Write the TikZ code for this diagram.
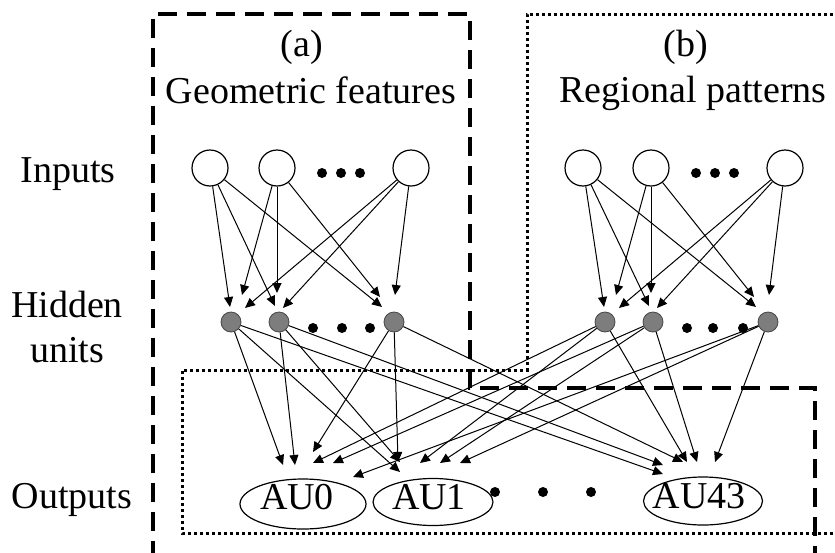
\documentclass[tikz,border=0pt]{standalone}
\usepackage{fontspec}
\setmainfont{Liberation Serif}
\usetikzlibrary{arrows.meta,shapes.geometric}
\begin{document}
\begin{tikzpicture}[x=1pt,y=-1pt,
  lbl/.style={font=\rmfamily\fontsize{38}{45}\selectfont, inner sep=0pt, anchor=base},
  innode/.style={circle, draw, line width=1.2pt, fill=white, minimum size=36pt, inner sep=0pt},
  hidnode/.style={circle, draw={rgb,255:red,70;green,70;blue,70}, line width=0.8pt, fill={rgb,255:red,125;green,125;blue,125}, minimum size=20pt, inner sep=0pt},
  dotnode/.style={circle, fill=black, minimum size=10pt, inner sep=0pt},
  outnode/.style={ellipse, draw, line width=1.2pt, inner sep=0pt},
  conn/.style={-{Triangle[length=10pt,width=9pt]}, line width=1pt},
  dashbox/.style={line width=3.5pt, dash pattern=on 19pt off 10pt},
  dotbox/.style={line width=3pt, dash pattern=on 3pt off 3pt}]
\useasboundingbox (0,0) rectangle (835,552);
\clip (0,0) rectangle (835,552);
\fill[white] (0,0) rectangle (835,552);
% boxes
\draw[dashbox] (153,560) -- (153,14) -- (470,14) -- (470,388) -- (815,388) -- (815,560);
\draw[dotbox] (845,14) -- (527,14) -- (527,370) -- (182,370) -- (182,533) -- (845,533);
% labels
\node[lbl] (la) at (302,56) {(a)};
\node[lbl] (lgeo) at (311,103) {Geometric features};
\node[lbl] (lb) at (686,56) {(b)};
\node[lbl] (lreg) at (693,102) {Regional patterns};
\node[lbl] (linp) at (68,182) {Inputs};
\node[lbl] (lhid) at (67,317) {Hidden};
\node[lbl] (luni) at (67,362) {units};
\node[lbl] (lout) at (72,508) {Outputs};
% inputs
\node[innode] (I1a) at (210,168) {};
\node[innode] (I2a) at (277,168) {};
\node[innode] (I3a) at (411,168) {};
\node[innode] (I1b) at (583,168) {};
\node[innode] (I2b) at (651,168) {};
\node[innode] (I3b) at (785,168) {};
\node[dotnode] (id1) at (322,173) {};
\node[dotnode] (id2) at (341,173) {};
\node[dotnode] (id3) at (360,173) {};
\node[dotnode] (id4) at (696,173) {};
\node[dotnode] (id5) at (715,173) {};
\node[dotnode] (id6) at (734,173) {};
% hidden
\node[hidnode] (H1a) at (231,322) {};
\node[hidnode] (H2a) at (279,322) {};
\node[hidnode] (H3a) at (394,322) {};
\node[hidnode] (H1b) at (605,322) {};
\node[hidnode] (H2b) at (653,322) {};
\node[hidnode] (H3b) at (768,322) {};
\node[dotnode] (hd1) at (313,328) {};
\node[dotnode] (hd2) at (342,328) {};
\node[dotnode] (hd3) at (370,328) {};
\node[dotnode] (hd4) at (687,328) {};
\node[dotnode] (hd5) at (713,328) {};
\node[dotnode] (hd6) at (743,328) {};
% outputs
\node[outnode, minimum width=126pt, minimum height=50pt] (AU0) at (303,504) {};
\node[outnode, minimum width=120pt, minimum height=47pt] (AU1) at (433,502) {};
\node[outnode, minimum width=119pt, minimum height=48pt] (AU43) at (703,501) {};
\node[lbl] (AU0t) at (297,509) {AU0};
\node[lbl] (AU1t) at (429,509) {AU1};
\node[lbl] (AU43t) at (699,508) {AU43};
\node[dotnode] (od1) at (495,492) {};
\node[dotnode] (od2) at (543,492) {};
\node[dotnode] (od3) at (591,492) {};
% arrow tips near hidden units
\foreach \s/\o in {a/0,b/374}{
  \coordinate (t11\s) at (230+\o,307);
  \coordinate (t12\s) at (275+\o,306);
  \coordinate (t13\s) at (382+\o,307);
  \coordinate (t21\s) at (242+\o,295);
  \coordinate (t22\s) at (277+\o,293);
  \coordinate (t23\s) at (380+\o,297);
  \coordinate (t31\s) at (245+\o,308);
  \coordinate (t32\s) at (283+\o,308);
  \coordinate (t33\s) at (395+\o,295);
}
\foreach \s in {a,b}{
  \foreach \i in {1,2,3}{
    \foreach \j in {1,2,3}{
      \draw[conn] (I\i\s) -- (t\i\j\s);
    }
  }
}
% arrow tips near outputs
\coordinate (u1a0) at (283,465);
\coordinate (u2a0) at (295,465);
\coordinate (u3a0) at (313,452);
\coordinate (u1b0) at (313,463);
\coordinate (u2b0) at (333,463);
\coordinate (u3b0) at (353,477);
\coordinate (u1a1) at (400,472);
\coordinate (u2a1) at (400,462);
\coordinate (u3a1) at (398,462);
\coordinate (u1b1) at (420,463);
\coordinate (u2b1) at (440,463);
\coordinate (u3b1) at (460,463);
\coordinate (u1a2) at (663,474);
\coordinate (u2a2) at (663,465);
\coordinate (u3a2) at (683,462);
\coordinate (u1b2) at (687,462);
\coordinate (u2b2) at (697,462);
\coordinate (u3b2) at (715,462);
\foreach \s in {a,b}{
  \foreach \i in {1,2,3}{
    \foreach \k in {0,1,2}{
      \draw[conn] (H\i\s) -- (u\i\s\k);
    }
  }
}
\end{tikzpicture}
\end{document}
